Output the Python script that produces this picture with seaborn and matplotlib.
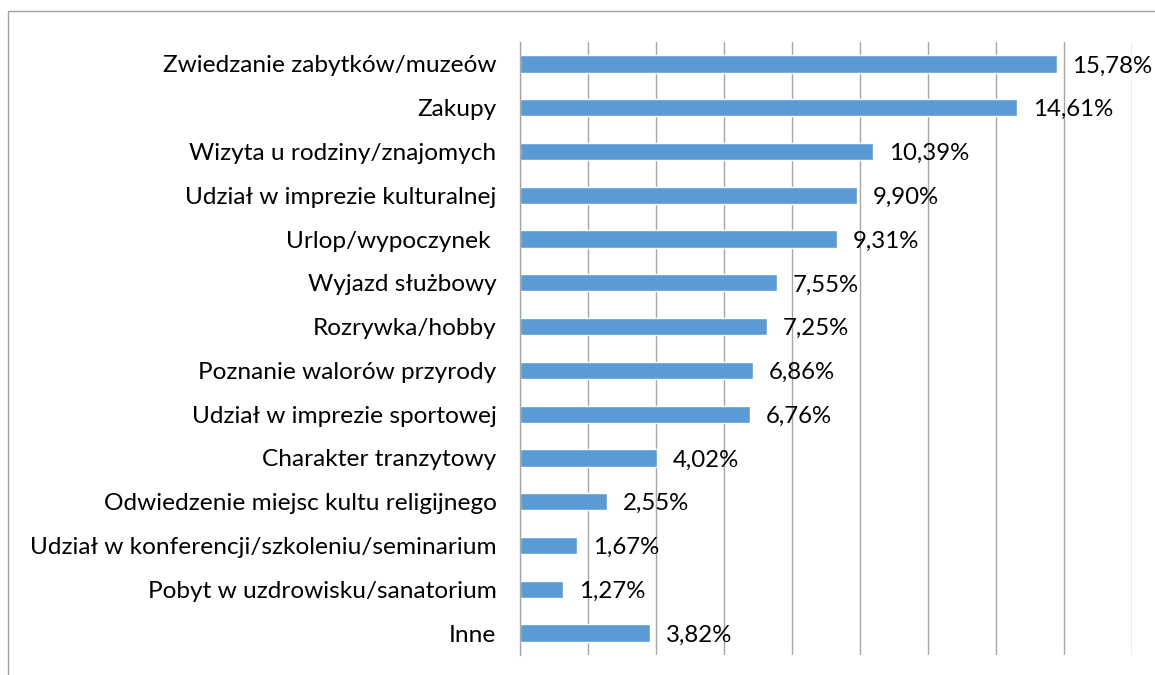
import matplotlib
matplotlib.use("Agg")
import matplotlib.pyplot as plt
import seaborn as sns
import numpy as np
from matplotlib.patches import Rectangle
from matplotlib.ticker import MultipleLocator, FixedLocator

categories = [
    "Zwiedzanie zabytków/muzeów",
    "Zakupy",
    "Wizyta u rodziny/znajomych",
    "Udział w imprezie kulturalnej",
    "Urlop/wypoczynek ",
    "Wyjazd służbowy",
    "Rozrywka/hobby",
    "Poznanie walorów przyrody",
    "Udział w imprezie sportowej",
    "Charakter tranzytowy",
    "Odwiedzenie miejsc kultu religijnego",
    "Udział w konferencji/szkoleniu/seminarium",
    "Pobyt w uzdrowisku/sanatorium",
    "Inne",
]
values = [15.78, 14.61, 10.39, 9.90, 9.31, 7.55, 7.25, 6.86, 6.76, 4.02, 2.55, 1.67, 1.27, 3.82]
value_labels = ["15,78%", "14,61%", "10,39%", "9,90%", "9,31%", "7,55%", "7,25%",
                "6,86%", "6,76%", "4,02%", "2,55%", "1,67%", "1,27%", "3,82%"]

sns.set_style("white")
plt.rcParams["font.family"] = ["Lato", "DejaVu Sans"]

W, H = 1155, 675
fig = plt.figure(figsize=(W / 100, H / 100), dpi=100)
ax = fig.add_axes([520 / W, 1 - 655 / H, (1132 - 520) / W, (655 - 42) / H])

bar_color = "#5B9BD5"
grid_color = "#A6A6A6"
fs_cat = 17.6
fs_val = 17.3

sns.barplot(x=values, y=categories, orient="h", color=bar_color, width=0.395,
            saturation=1, ax=ax, zorder=2)

ax.set_xlim(0, 18)
ax.set_ylim(len(categories) - 0.5, -0.5)
ax.xaxis.set_major_locator(MultipleLocator(2))
ax.grid(axis="x", color=grid_color, linewidth=1.0, zorder=0)
ax.set_axisbelow(True)
ax.tick_params(axis="x", length=0, labelbottom=False)
ax.set_xlabel("")
ax.set_ylabel("")

for s in ["top", "right", "bottom"]:
    ax.spines[s].set_visible(False)
ax.spines["left"].set_color(grid_color)
ax.spines["left"].set_linewidth(1.0)

ax.tick_params(axis="y", which="major", length=0, pad=17, labelsize=fs_cat, labelcolor="black")
ax.yaxis.set_minor_locator(FixedLocator(np.arange(-0.5, len(categories), 1.0)))
ax.tick_params(axis="y", which="minor", length=5.8, width=1.0, color=grid_color, direction="out")

for i, (v, lab) in enumerate(zip(values, value_labels)):
    ax.annotate(lab, xy=(v, i), xytext=(11.5, -1.5), textcoords="offset points",
                ha="left", va="center", fontsize=fs_val, color="black", zorder=3)

fig.patches.append(Rectangle((8 / W, -0.1), 1.2, 1 - 11 / H + 0.1, transform=fig.transFigure,
                             fill=False, edgecolor="#A0A0A0", linewidth=1.0))

fig.savefig("out.png", dpi=100)
